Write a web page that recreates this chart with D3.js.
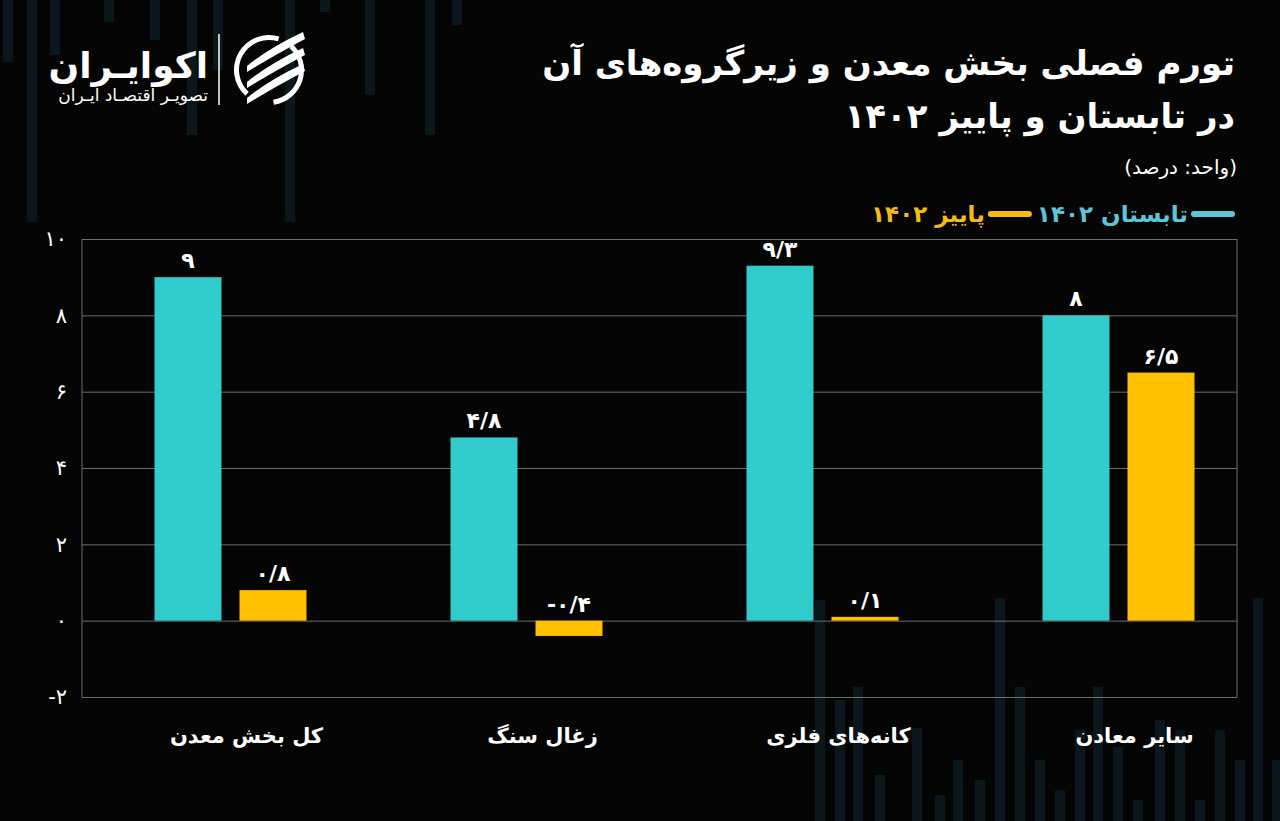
<!DOCTYPE html>
<html>
<head>
<meta charset="utf-8">
<script src="https://cdn.jsdelivr.net/npm/d3@7"></script>
<style>
  body { margin: 0; background: #050505; }
  svg { display: block; }
  text { font-family: "DejaVu Sans", sans-serif; }
</style>
</head>
<body>
<div id="chart"></div>
<script>
// chart data
const categories = ["کل بخش معدن", "زغال سنگ", "کانه‌های فلزی", "سایر معادن"];
const seriesNames = ["تابستان ۱۴۰۲", "پاییز ۱۴۰۲"];
const summer = [9, 4.8, 9.3, 8];
const autumn = [0.8, -0.4, 0.1, 6.5];
const yTicks = [-2, 0, 2, 4, 6, 8, 10];
const colors = ["#33cccc", "#ffc000"];
const legendColors = ["#5cc7d9", "#f5bd14"];

// background decoration (faint vertical strips) [x, length]
const topStrips = [[3, 62], [27, 222], [50, 55], [104, 22], [150, 40], [187, 135], [213, 70], [285, 222], [320, 12], [365, 95], [425, 135], [452, 25]];
const bottomStrips = [[815, 600], [835, 700], [853, 687], [875, 775], [912, 728], [935, 795], [953, 760], [975, 780], [995, 598], [1015, 687], [1035, 760], [1055, 790], [1075, 730], [1093, 687], [1113, 747], [1133, 800], [1155, 720], [1175, 730], [1195, 800], [1215, 730], [1235, 760], [1253, 598], [1272, 760]];

const toFa = v => String(v).replace(".", "/").replace(/[0-9]/g, d => "۰۱۲۳۴۵۶۷۸۹"[d]);

const W = 1280, H = 821;
const margin = {top: 239, right: 43, bottom: 124, left: 82};
const width = W - margin.left - margin.right;
const height = H - margin.top - margin.bottom;

const svg = d3.select("#chart").append("svg")
  .attr("width", W).attr("height", H)
  .style("background", "#050505");

// decoration
svg.append("g").selectAll("rect").data(topStrips).join("rect")
  .attr("x", d => d[0]).attr("y", 0).attr("width", 10).attr("height", d => d[1])
  .attr("fill", "#0a181d");
svg.append("g").selectAll("rect").data(bottomStrips).join("rect")
  .attr("x", d => d[0]).attr("y", d => d[1]).attr("width", 10).attr("height", d => H - d[1])
  .attr("fill", "#0a181d");

// logo
const logo = svg.append("g");
logo.append("text").attr("x", 208).attr("y", 78).attr("text-anchor", "end")
  .attr("fill", "#fff").style("font-size", "36px").style("font-weight", "bold")
  .text("اکوایـران");
logo.append("text").attr("x", 208).attr("y", 101).attr("text-anchor", "end")
  .attr("fill", "#fff").style("font-size", "17px")
  .text("تصویـر اقتصـاد ایـران");
logo.append("line").attr("x1", 219).attr("x2", 219).attr("y1", 34).attr("y2", 105)
  .attr("stroke", "#fff").attr("stroke-width", 1.5);
const icon = logo.append("g").attr("transform", "translate(269,70)");
icon.append("path")
  .attr("d", d3.arc()({innerRadius: 30, outerRadius: 35, startAngle: -2.4, endAngle: 0.3}))
  .attr("fill", "#fff");
icon.append("path")
  .attr("d", d3.arc()({innerRadius: 30, outerRadius: 35, startAngle: 0.75, endAngle: 3.0}))
  .attr("fill", "#fff");
[-16, 0, 16].forEach(dy => {
  icon.append("path")
    .attr("d", `M-22,${dy + 12} Q0,${dy - 6} 34,${dy - 22} L36,${dy - 15} Q4,${dy + 2} -22,${dy + 18} Z`)
    .attr("fill", "#fff");
});

// title
svg.append("text").attr("x", 1235).attr("y", 75).attr("text-anchor", "end")
  .attr("fill", "#fff").style("font-size", "34px").style("font-weight", "bold")
  .text("تورم فصلی بخش معدن و زیرگروه‌های آن");
svg.append("text").attr("x", 1235).attr("y", 128).attr("text-anchor", "end")
  .attr("fill", "#fff").style("font-size", "34px").style("font-weight", "bold")
  .text("در تابستان و پاییز ۱۴۰۲");
svg.append("text").attr("x", 1237).attr("y", 174).attr("text-anchor", "end")
  .attr("fill", "#fff").style("font-size", "20px")
  .text("(واحد: درصد)");

// legend
const legend = svg.append("g");
let lx = 1232;
seriesNames.forEach((name, i) => {
  legend.append("line").attr("x1", lx).attr("x2", lx - 38).attr("y1", 214).attr("y2", 214)
    .attr("stroke", legendColors[i]).attr("stroke-width", 6).attr("stroke-linecap", "round");
  const t = legend.append("text").attr("x", lx - 44).attr("y", 222).attr("text-anchor", "end")
    .attr("fill", legendColors[i]).style("font-size", "23px").style("font-weight", "bold")
    .text(name);
  lx = lx - 44 - t.node().getComputedTextLength() - 8;
});

const g = svg.append("g").attr("transform", `translate(${margin.left},${margin.top})`);

const y = d3.scaleLinear().domain([-2, 10]).range([height, 0]);
const x0 = d3.scalePoint().domain(categories).range([148.5, 1036.5]);
const x1 = d3.scaleBand().domain(seriesNames).range([-76, 76]).paddingInner(0.212);

// grid + y axis
g.append("g")
  .call(d3.axisLeft(y).tickValues(yTicks).tickSize(-width).tickFormat(toFa).tickPadding(15))
  .call(a => a.select(".domain").remove())
  .call(a => a.selectAll(".tick line").attr("stroke", "#6e6e6e").attr("stroke-width", 1))
  .call(a => a.selectAll(".tick text").attr("fill", "#fff").style("font-size", "21px")
    .style("font-family", "DejaVu Sans"));
g.append("line").attr("x1", 0).attr("x2", 0).attr("y1", 0).attr("y2", height)
  .attr("stroke", "#6e6e6e");
g.append("line").attr("x1", width).attr("x2", width).attr("y1", 0).attr("y2", height)
  .attr("stroke", "#6e6e6e");

const rows = categories.map((c, i) => ({cat: c, vals: [summer[i], autumn[i]]}));

const grp = g.selectAll(".grp").data(rows).join("g")
  .attr("transform", d => `translate(${x0(d.cat)},0)`);

grp.selectAll("rect").data(d => d.vals.map((v, i) => ({s: seriesNames[i], v, i}))).join("rect")
  .attr("x", d => x1(d.s)).attr("width", x1.bandwidth())
  .attr("y", d => y(Math.max(0, d.v)))
  .attr("height", d => Math.abs(y(d.v) - y(0)))
  .attr("fill", d => colors[d.i]);

grp.selectAll(".val").data(d => d.vals.map((v, i) => ({s: seriesNames[i], v, i}))).join("text")
  .attr("class", "val")
  .attr("x", d => x1(d.s) + x1.bandwidth() / 2)
  .attr("y", d => y(Math.max(0, d.v)) - 9)
  .attr("text-anchor", "middle").attr("fill", "#fff")
  .style("font-size", "22px").style("font-weight", "bold")
  .text(d => toFa(d.v));

// category labels
g.selectAll(".cat").data(categories).join("text")
  .attr("class", "cat")
  .attr("x", d => x0(d) + 16).attr("y", height + 46)
  .attr("text-anchor", "middle").attr("fill", "#fff")
  .style("font-size", "21px").style("font-weight", "bold")
  .text(d => d);
</script>
</body>
</html>
